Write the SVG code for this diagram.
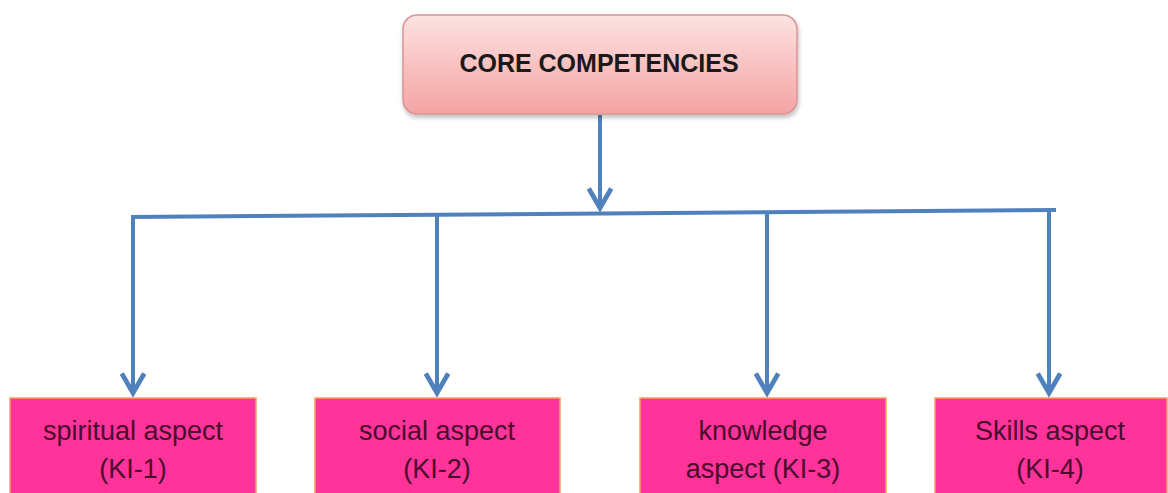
<svg xmlns="http://www.w3.org/2000/svg" width="1168" height="493" viewBox="0 0 1168 493">
<style>
.lbl{font-family:"Liberation Sans",Arial,sans-serif;font-size:27px;fill:#4a0d2c;text-anchor:middle}
.core{font-family:"Liberation Sans",Arial,sans-serif;font-size:25px;font-weight:bold;fill:#1a1a1a;text-anchor:middle}
.box{fill:#ff3399;stroke:#f7a060;stroke-width:1.5}
.con{stroke:#4f81bd;stroke-width:4;fill:none}
</style>
<defs>
<linearGradient id="g" x1="0" y1="0" x2="0" y2="1">
<stop offset="0" stop-color="#fde2e2"/>
<stop offset="1" stop-color="#f5a3a3"/>
</linearGradient>
<filter id="sh" x="-5%" y="-5%" width="115%" height="125%">
<feDropShadow dx="1" dy="3" stdDeviation="2" flood-color="#000" flood-opacity="0.25"/>
</filter>
<marker id="ah" viewBox="0 0 12 12" refX="10" refY="6" markerWidth="6.5" markerHeight="6.5" orient="auto" markerUnits="strokeWidth">
<path d="M1,0.8 L10,6 L1,11.2" fill="none" stroke="#4f81bd" stroke-width="2.2" stroke-linejoin="miter"/>
</marker>
</defs>
<rect width="1168" height="493" fill="#fff"/>
<g id="connectors">
<line class="con" x1="600" y1="115" x2="600" y2="208" marker-end="url(#ah)"/>
<line class="con" x1="131" y1="217" x2="1056" y2="210"/>
<line class="con" x1="133" y1="215" x2="133" y2="393" marker-end="url(#ah)"/>
<line class="con" x1="437" y1="215" x2="437" y2="393" marker-end="url(#ah)"/>
<line class="con" x1="767" y1="212" x2="767" y2="393" marker-end="url(#ah)"/>
<line class="con" x1="1049" y1="210" x2="1049" y2="393" marker-end="url(#ah)"/>
</g>
<g id="core">
<rect x="403" y="15" width="394" height="99" rx="14" fill="url(#g)" stroke="#d99594" stroke-width="1.5" filter="url(#sh)"/>
<text class="core" x="599" y="72">CORE COMPETENCIES</text>
</g>
<g id="ki1">
<rect class="box" x="10" y="398" width="246" height="100"/>
<text class="lbl" x="133" y="440">spiritual aspect</text>
<text class="lbl" x="133" y="478">(KI-1)</text>
</g>
<g id="ki2">
<rect class="box" x="315" y="398" width="245" height="100"/>
<text class="lbl" x="437" y="440">social aspect</text>
<text class="lbl" x="437" y="478">(KI-2)</text>
</g>
<g id="ki3">
<rect class="box" x="640" y="398" width="246" height="100"/>
<text class="lbl" x="763" y="440">knowledge</text>
<text class="lbl" x="763" y="478">aspect (KI-3)</text>
</g>
<g id="ki4">
<rect class="box" x="935" y="398" width="232" height="100"/>
<text class="lbl" x="1050" y="440">Skills aspect</text>
<text class="lbl" x="1050" y="478">(KI-4)</text>
</g>
</svg>
